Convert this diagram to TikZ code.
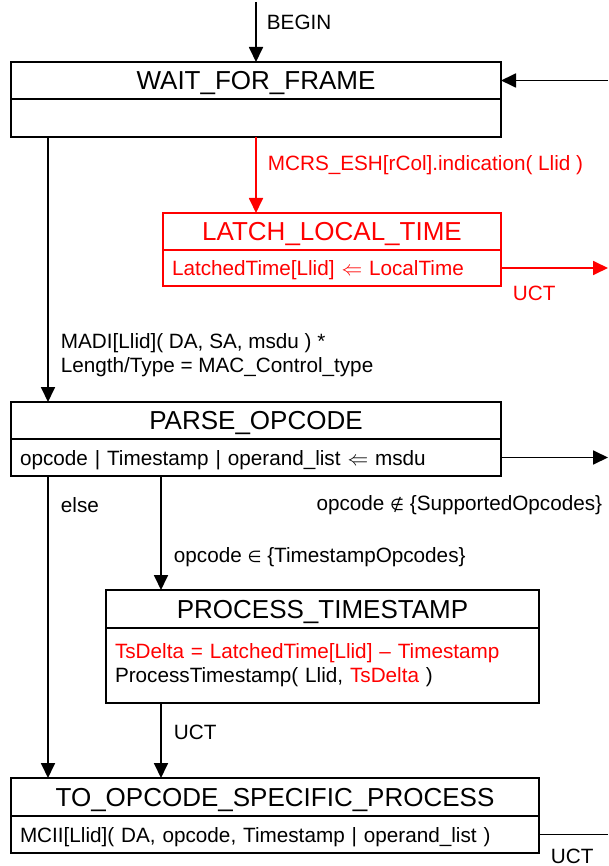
\documentclass[tikz,border=0pt]{standalone}
\usepackage{fix-cm}
\usepackage{fontspec}
\setmainfont{Liberation Sans}
\newfontfamily\glyphfont{DejaVu Sans}
\usetikzlibrary{arrows.meta}
\newcommand{\titlefont}{\fontsize{26}{30}\selectfont}
\newcommand{\labelfont}{\fontsize{20.7}{24}\selectfont}
\newcommand{\setsym}[1]{{\glyphfont\fontsize{16}{20}\selectfont #1}}
\newcommand{\drawstate}[8]{%
	\pgfmathsetmacro{\bodyw}{#4 - 18}
	\node[statetitle, minimum width=#4pt, minimum height=#5pt] (#1) at (#2,#3) {#7};
	\node[statebody, minimum width=#4pt, minimum height=#6pt, text width=\bodyw pt] (#1b) at (#1.south west) {#8};
}
\begin{document}
\begin{tikzpicture}[x=1pt, y=-1pt, line width=1.8pt,
        statetitle/.style={draw, anchor=north west, inner sep=0pt, outer sep=0pt, text height=18.6pt, text depth=0pt, font=\titlefont},
        statebody/.style={draw, anchor=north west, inner xsep=9pt, inner ysep=0pt, outer sep=0pt, text height=15pt, text depth=0pt, align=left, font=\labelfont},
        lbl/.style={anchor=west, inner sep=0pt, font=\labelfont},
        arr/.style={-{Triangle[length=15pt,width=14pt]}}]
        \useasboundingbox (0,0) rectangle (608,866);
        \drawstate{wait}{11}{62}{490}{37}{38}{WAIT\_FOR\_FRAME}{}
        \begin{scope}[red]
                \drawstate{latch}{163}{213}{338}{37}{36}{LATCH\_LOCAL\_TIME}{LatchedTime[Llid] $\Leftarrow$ LocalTime}
        \end{scope}
        \drawstate{parse}{11}{402}{490}{37}{37}{PARSE\_OPCODE}{opcode | Timestamp | operand\_list $\Leftarrow$ msdu}
        \begin{scope}[statebody/.append style={text height=, text depth=}]
                \drawstate{pts}{106}{590}{433}{38}{75}{PROCESS\_TIMESTAMP}{\textcolor{red}{TsDelta = LatchedTime[Llid] -- Timestamp}\\ProcessTimestamp( Llid, \textcolor{red}{TsDelta} )}
        \end{scope}
        \drawstate{toop}{11}{778}{528}{38}{37}{TO\_OPCODE\_SPECIFIC\_PROCESS}{MCII[Llid]( DA, opcode, Timestamp | operand\_list )}

        \coordinate (top) at (256,2);
        \coordinate (rim) at (608,0);
        \coordinate (lft) at (48,0);
        \coordinate (mid) at (161,0);

        \draw[arr] (top) -- (wait.north);
        \draw[arr] (rim |- wait.east) -- (wait.east);
        \draw[arr, red] (waitb.south) -- (waitb.south |- latch.north);
        \draw[arr, red] (latchb.east) -- (latchb.east -| rim);
        \draw[arr] (waitb.south -| lft) -- (parse.north -| lft);
        \draw[arr] (parseb.east) -- (parseb.east -| rim);
        \draw[arr] (parseb.south -| lft) -- (toop.north -| lft);
        \draw[arr] (parseb.south -| mid) -- (pts.north -| mid);
        \draw[arr] (ptsb.south -| mid) -- (toop.north -| mid);
        \draw (toopb.east) -- (toopb.east -| rim);

        \node[lbl] (lbegin) at (266,22) {BEGIN};
        \node[lbl, red] (lind) at (267,165) {MCRS\_ESH[rCol].indication( Llid )};
        \node[lbl, red] (luct1) at (512,293) {UCT};
        \node[lbl, align=left] (lmadi) at (60,355) {MADI[Llid]( DA, SA, msdu ) *\\Length/Type = MAC\_Control\_type};
        \node[lbl, anchor=east] (lnotin) at (603,505) {opcode \setsym{∉} \{SupportedOpcodes\}};
        \node[lbl] (lelse) at (60,505) {else};
        \node[lbl] (lin) at (173,557) {opcode \setsym{∈} \{TimestampOpcodes\}};
        \node[lbl] (luct2) at (173,732) {UCT};
        \node[lbl] (luct3) at (550,856) {UCT};
\end{tikzpicture}
\end{document}
